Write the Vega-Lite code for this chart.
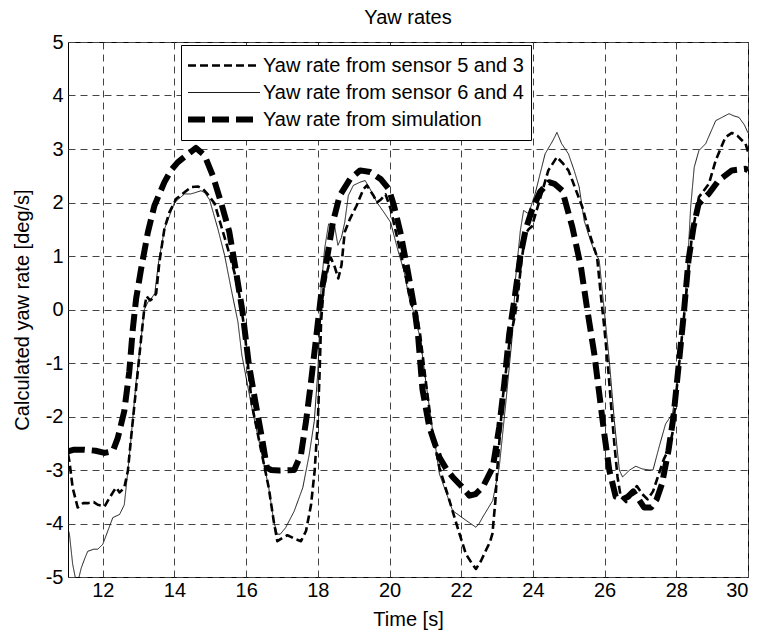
{
  "$schema": "https://vega.github.io/schema/vega-lite/v6.json",
  "width": 680,
  "height": 535,
  "autosize": {"type": "none"},
  "padding": {"left": 68, "top": 42, "right": 12, "bottom": 57},
  "background": "white",
  "title": {"text": "Yaw rates", "fontSize": 20, "font": "Liberation Sans", "fontWeight": "normal", "color": "black", "offset": 4, "anchor": "middle"},
  "datasets": {
    "s1": [
      {"t":11.03,"y":-2.7},{"t":11.07,"y":-2.84},{"t":11.16,"y":-3.33},{"t":11.3,"y":-3.7},{"t":11.45,"y":-3.62},{"t":11.58,"y":-3.62},{"t":11.75,"y":-3.6},{"t":11.86,"y":-3.65},{"t":12.05,"y":-3.68},{"t":12.19,"y":-3.52},{"t":12.3,"y":-3.4},{"t":12.37,"y":-3.33},{"t":12.47,"y":-3.42},{"t":12.6,"y":-3.33},{"t":12.7,"y":-3.02},{"t":12.79,"y":-2.4},{"t":12.93,"y":-1.47},{"t":13.07,"y":-0.54},{"t":13.16,"y":0.02},{"t":13.22,"y":0.25},{"t":13.32,"y":0.17},{"t":13.42,"y":0.22},{"t":13.49,"y":0.3},{"t":13.58,"y":0.89},{"t":13.72,"y":1.51},{"t":13.86,"y":1.82},{"t":14.05,"y":2.07},{"t":14.28,"y":2.19},{"t":14.47,"y":2.29},{"t":14.65,"y":2.3},{"t":14.8,"y":2.25},{"t":14.93,"y":2.15},{"t":15.12,"y":1.98},{"t":15.3,"y":1.57},{"t":15.49,"y":1.14},{"t":15.67,"y":0.7},{"t":15.81,"y":0.27},{"t":15.95,"y":-0.35},{"t":16.16,"y":-1.78},{"t":16.44,"y":-2.71},{"t":16.63,"y":-3.33},{"t":16.77,"y":-3.96},{"t":16.87,"y":-4.33},{"t":17.01,"y":-4.27},{"t":17.15,"y":-4.22},{"t":17.25,"y":-4.25},{"t":17.4,"y":-4.3},{"t":17.53,"y":-4.33},{"t":17.67,"y":-4.14},{"t":17.81,"y":-3.65},{"t":17.91,"y":-3.02},{"t":18.0,"y":-2.09},{"t":18.05,"y":-1.16},{"t":18.09,"y":-0.23},{"t":18.16,"y":0.39},{"t":18.28,"y":0.76},{"t":18.36,"y":0.97},{"t":18.47,"y":0.8},{"t":18.57,"y":0.58},{"t":18.66,"y":0.83},{"t":18.75,"y":1.45},{"t":18.9,"y":1.7},{"t":19.08,"y":1.94},{"t":19.27,"y":2.25},{"t":19.37,"y":2.32},{"t":19.46,"y":2.22},{"t":19.56,"y":2.12},{"t":19.65,"y":2.0},{"t":19.75,"y":2.05},{"t":19.89,"y":2.15},{"t":20.03,"y":1.88},{"t":20.22,"y":1.32},{"t":20.41,"y":0.76},{"t":20.6,"y":0.1},{"t":20.75,"y":-0.05},{"t":20.85,"y":-0.45},{"t":21.02,"y":-1.39},{"t":21.2,"y":-2.32},{"t":21.39,"y":-2.95},{"t":21.67,"y":-3.57},{"t":21.95,"y":-4.19},{"t":22.13,"y":-4.57},{"t":22.3,"y":-4.75},{"t":22.41,"y":-4.85},{"t":22.55,"y":-4.7},{"t":22.69,"y":-4.5},{"t":22.8,"y":-4.35},{"t":22.87,"y":-4.19},{"t":22.95,"y":-3.6},{"t":23.01,"y":-2.95},{"t":23.15,"y":-1.7},{"t":23.34,"y":-0.64},{"t":23.5,"y":-0.1},{"t":23.57,"y":0.2},{"t":23.68,"y":0.9},{"t":23.79,"y":1.41},{"t":23.88,"y":1.5},{"t":23.97,"y":1.55},{"t":24.16,"y":1.98},{"t":24.43,"y":2.6},{"t":24.67,"y":2.85},{"t":24.85,"y":2.72},{"t":24.99,"y":2.6},{"t":25.1,"y":2.41},{"t":25.38,"y":1.91},{"t":25.61,"y":1.35},{"t":25.79,"y":0.98},{"t":25.89,"y":0.3},{"t":25.99,"y":-0.33},{"t":26.08,"y":-0.95},{"t":26.17,"y":-1.7},{"t":26.27,"y":-2.5},{"t":26.36,"y":-3.13},{"t":26.45,"y":-3.5},{"t":26.6,"y":-3.6},{"t":26.75,"y":-3.45},{"t":26.9,"y":-3.3},{"t":27.05,"y":-3.45},{"t":27.2,"y":-3.55},{"t":27.35,"y":-3.4},{"t":27.5,"y":-3.1},{"t":27.65,"y":-2.8},{"t":27.8,"y":-2.6},{"t":27.89,"y":-2.32},{"t":28.07,"y":-1.08},{"t":28.26,"y":0.17},{"t":28.44,"y":1.41},{"t":28.63,"y":2.1},{"t":28.91,"y":2.35},{"t":29.1,"y":2.79},{"t":29.37,"y":3.22},{"t":29.55,"y":3.3},{"t":29.7,"y":3.25},{"t":29.85,"y":3.15},{"t":29.93,"y":3.1},{"t":30.0,"y":2.95}
    ],
    "s2": [
      {"t":11.03,"y":-4.1},{"t":11.07,"y":-4.2},{"t":11.16,"y":-4.76},{"t":11.26,"y":-5.1},{"t":11.32,"y":-5.05},{"t":11.4,"y":-4.83},{"t":11.5,"y":-4.65},{"t":11.58,"y":-4.52},{"t":11.75,"y":-4.48},{"t":11.86,"y":-4.48},{"t":12.0,"y":-4.39},{"t":12.14,"y":-4.14},{"t":12.28,"y":-3.89},{"t":12.47,"y":-3.83},{"t":12.6,"y":-3.65},{"t":12.7,"y":-3.02},{"t":12.79,"y":-2.4},{"t":12.93,"y":-1.35},{"t":13.07,"y":-0.54},{"t":13.16,"y":0.0},{"t":13.26,"y":0.14},{"t":13.35,"y":0.2},{"t":13.45,"y":0.3},{"t":13.55,"y":0.85},{"t":13.72,"y":1.5},{"t":13.86,"y":1.75},{"t":14.0,"y":2.0},{"t":14.28,"y":2.16},{"t":14.45,"y":2.16},{"t":14.56,"y":2.18},{"t":14.74,"y":2.22},{"t":14.85,"y":2.18},{"t":14.98,"y":2.05},{"t":15.21,"y":1.51},{"t":15.4,"y":1.01},{"t":15.58,"y":0.39},{"t":15.77,"y":-0.23},{"t":15.88,"y":-0.85},{"t":16.16,"y":-1.84},{"t":16.44,"y":-2.71},{"t":16.63,"y":-3.33},{"t":16.77,"y":-3.96},{"t":16.87,"y":-4.2},{"t":16.95,"y":-4.2},{"t":17.1,"y":-4.08},{"t":17.34,"y":-3.77},{"t":17.58,"y":-3.33},{"t":17.76,"y":-2.71},{"t":17.9,"y":-2.09},{"t":18.0,"y":-1.16},{"t":18.05,"y":-0.35},{"t":18.09,"y":0.39},{"t":18.19,"y":1.14},{"t":18.3,"y":1.6},{"t":18.38,"y":1.55},{"t":18.47,"y":1.55},{"t":18.56,"y":1.2},{"t":18.66,"y":1.35},{"t":18.75,"y":1.63},{"t":18.85,"y":2.13},{"t":18.99,"y":2.32},{"t":19.18,"y":2.38},{"t":19.32,"y":2.41},{"t":19.46,"y":2.25},{"t":19.65,"y":2.0},{"t":19.84,"y":1.82},{"t":20.03,"y":1.63},{"t":20.22,"y":1.14},{"t":20.41,"y":0.7},{"t":20.55,"y":0.2},{"t":20.65,"y":0.0},{"t":20.78,"y":-0.35},{"t":20.85,"y":-0.5},{"t":21.02,"y":-1.39},{"t":21.2,"y":-2.25},{"t":21.3,"y":-2.64},{"t":21.39,"y":-3.07},{"t":21.76,"y":-3.76},{"t":22.13,"y":-3.94},{"t":22.41,"y":-4.07},{"t":22.5,"y":-4.0},{"t":22.6,"y":-3.88},{"t":22.88,"y":-3.57},{"t":23.06,"y":-2.95},{"t":23.25,"y":-1.7},{"t":23.43,"y":-0.45},{"t":23.51,"y":0.54},{"t":23.65,"y":1.48},{"t":23.74,"y":1.85},{"t":23.88,"y":1.79},{"t":24.06,"y":2.16},{"t":24.34,"y":2.91},{"t":24.55,"y":3.15},{"t":24.67,"y":3.31},{"t":24.8,"y":3.1},{"t":24.99,"y":2.91},{"t":25.15,"y":2.6},{"t":25.29,"y":2.29},{"t":25.43,"y":1.66},{"t":25.6,"y":1.3},{"t":25.71,"y":1.1},{"t":25.85,"y":0.92},{"t":25.99,"y":-0.02},{"t":26.13,"y":-0.95},{"t":26.27,"y":-2.07},{"t":26.41,"y":-3.0},{"t":26.5,"y":-3.13},{"t":26.7,"y":-3.0},{"t":26.87,"y":-2.93},{"t":27.05,"y":-2.98},{"t":27.24,"y":-3.0},{"t":27.35,"y":-3.0},{"t":27.52,"y":-2.57},{"t":27.7,"y":-2.14},{"t":27.89,"y":-1.95},{"t":28.03,"y":-1.39},{"t":28.17,"y":-0.45},{"t":28.31,"y":0.79},{"t":28.4,"y":1.91},{"t":28.5,"y":2.66},{"t":28.63,"y":2.97},{"t":28.82,"y":3.1},{"t":29.1,"y":3.53},{"t":29.3,"y":3.6},{"t":29.47,"y":3.66},{"t":29.6,"y":3.62},{"t":29.75,"y":3.59},{"t":29.9,"y":3.45},{"t":30.0,"y":3.3}
    ],
    "s3": [
      {"t":11.03,"y":-2.65},{"t":11.2,"y":-2.62},{"t":11.49,"y":-2.62},{"t":11.8,"y":-2.64},{"t":12.05,"y":-2.68},{"t":12.28,"y":-2.65},{"t":12.42,"y":-2.4},{"t":12.6,"y":-1.9},{"t":12.74,"y":-1.16},{"t":12.84,"y":-0.35},{"t":12.93,"y":0.2},{"t":13.07,"y":0.76},{"t":13.26,"y":1.45},{"t":13.44,"y":1.94},{"t":13.72,"y":2.38},{"t":13.9,"y":2.6},{"t":14.09,"y":2.75},{"t":14.37,"y":2.9},{"t":14.6,"y":3.02},{"t":14.84,"y":2.88},{"t":15.07,"y":2.5},{"t":15.3,"y":2.0},{"t":15.53,"y":1.45},{"t":15.72,"y":0.7},{"t":15.9,"y":-0.05},{"t":16.07,"y":-1.0},{"t":16.25,"y":-1.7},{"t":16.44,"y":-2.4},{"t":16.58,"y":-2.96},{"t":16.7,"y":-3.0},{"t":16.92,"y":-3.01},{"t":17.34,"y":-3.0},{"t":17.53,"y":-2.71},{"t":17.67,"y":-2.09},{"t":17.81,"y":-1.35},{"t":17.95,"y":-0.54},{"t":18.09,"y":0.27},{"t":18.24,"y":0.89},{"t":18.42,"y":1.63},{"t":18.61,"y":2.13},{"t":18.9,"y":2.44},{"t":19.18,"y":2.6},{"t":19.46,"y":2.57},{"t":19.75,"y":2.44},{"t":19.98,"y":2.25},{"t":20.12,"y":1.95},{"t":20.3,"y":1.45},{"t":20.5,"y":0.75},{"t":20.7,"y":0.0},{"t":20.8,"y":-0.52},{"t":20.92,"y":-1.5},{"t":21.11,"y":-2.2},{"t":21.39,"y":-2.76},{"t":21.6,"y":-3.0},{"t":21.76,"y":-3.13},{"t":22.0,"y":-3.3},{"t":22.23,"y":-3.48},{"t":22.4,"y":-3.45},{"t":22.6,"y":-3.32},{"t":22.88,"y":-2.95},{"t":23.06,"y":-2.2},{"t":23.2,"y":-1.39},{"t":23.34,"y":-0.45},{"t":23.48,"y":0.17},{"t":23.65,"y":1.0},{"t":23.8,"y":1.5},{"t":23.97,"y":1.85},{"t":24.2,"y":2.2},{"t":24.45,"y":2.38},{"t":24.6,"y":2.35},{"t":24.82,"y":2.22},{"t":25.1,"y":1.54},{"t":25.34,"y":0.79},{"t":25.52,"y":-0.02},{"t":25.71,"y":-0.82},{"t":25.85,"y":-1.57},{"t":25.99,"y":-2.32},{"t":26.13,"y":-3.0},{"t":26.31,"y":-3.5},{"t":26.5,"y":-3.55},{"t":26.65,"y":-3.5},{"t":26.8,"y":-3.4},{"t":26.95,"y":-3.55},{"t":27.1,"y":-3.7},{"t":27.3,"y":-3.7},{"t":27.45,"y":-3.55},{"t":27.6,"y":-3.26},{"t":27.78,"y":-2.64},{"t":27.92,"y":-2.01},{"t":28.06,"y":-1.08},{"t":28.2,"y":-0.14},{"t":28.34,"y":0.92},{"t":28.48,"y":1.54},{"t":28.62,"y":1.97},{"t":28.9,"y":2.16},{"t":29.18,"y":2.41},{"t":29.55,"y":2.6},{"t":29.93,"y":2.63},{"t":30.0,"y":2.6}
    ]
  },
  "data": {"name": "s1"},
  "layer": [
    {
      "data": {"name": "s1"},
      "transform": [{"calculate": "'Yaw rate from sensor 5 and 3'", "as": "series"}],
      "mark": {"type": "line", "clip": true, "color": "black", "strokeJoin": "round"},
      "encoding": {
        "x": {"field": "t", "type": "quantitative"},
        "y": {"field": "y", "type": "quantitative"},
        "strokeDash": {"field": "series", "type": "nominal"},
        "strokeWidth": {"field": "series", "type": "nominal"}
      }
    },
    {
      "data": {"name": "s2"},
      "transform": [{"calculate": "'Yaw rate from sensor 6 and 4'", "as": "series"}],
      "mark": {"type": "line", "clip": true, "color": "black", "strokeJoin": "round"},
      "encoding": {
        "x": {"field": "t", "type": "quantitative"},
        "y": {"field": "y", "type": "quantitative"},
        "strokeDash": {"field": "series", "type": "nominal"},
        "strokeWidth": {"field": "series", "type": "nominal"}
      }
    },
    {
      "data": {"name": "s3"},
      "transform": [{"calculate": "'Yaw rate from simulation'", "as": "series"}],
      "mark": {"type": "line", "clip": true, "color": "black", "strokeJoin": "round"},
      "encoding": {
        "x": {"field": "t", "type": "quantitative"},
        "y": {"field": "y", "type": "quantitative"},
        "strokeDash": {"field": "series", "type": "nominal"},
        "strokeWidth": {"field": "series", "type": "nominal"}
      }
    }
  ],
  "encoding": {
    "x": {
      "field": "t", "type": "quantitative",
      "scale": {"domain": [11.03, 30], "nice": false, "zero": false},
      "axis": {"values": [12, 14, 16, 18, 20, 22, 24, 26, 28, 30], "title": "Time [s]", "labelExpr": "'' + datum.value", "labelPadding": 3, "titlePadding": 9}
    },
    "y": {
      "field": "y", "type": "quantitative",
      "scale": {"domain": [-5, 5], "nice": false, "zero": false},
      "axis": {"values": [-5, -4, -3, -2, -1, 0, 1, 2, 3, 4, 5], "title": "Calculated yaw rate [deg/s]", "labelExpr": "'' + datum.value", "labelPadding": 5, "titlePadding": 13}
    },
    "strokeDash": {
      "field": "series", "type": "nominal",
      "scale": {"domain": ["Yaw rate from sensor 5 and 3", "Yaw rate from sensor 6 and 4", "Yaw rate from simulation"], "range": [[8, 4], [1, 0], [17, 7]]},
      "legend": {"title": null, "orient": "none", "legendX": 113, "legendY": 3, "symbolType": "M-3,0H3", "symbolSize": 576, "symbolOffset": 21, "clipHeight": 27, "symbolStrokeColor": "black", "labelFontSize": 20, "labelFont": "Liberation Sans", "labelColor": "black", "labelOffset": 24, "strokeColor": "black", "fillColor": "white", "padding": 7, "rowPadding": 0, "labelLimit": 400}
    },
    "strokeWidth": {
      "field": "series", "type": "nominal",
      "scale": {"type": "ordinal", "domain": ["Yaw rate from sensor 5 and 3", "Yaw rate from sensor 6 and 4", "Yaw rate from simulation"], "range": [2.6, 0.9, 6]},
      "legend": {"title": null, "orient": "none", "legendX": 113, "legendY": 3, "symbolType": "M-3,0H3", "symbolSize": 576, "symbolOffset": 21, "clipHeight": 27, "symbolStrokeColor": "black", "labelFontSize": 20, "labelFont": "Liberation Sans", "labelColor": "black", "labelOffset": 24, "strokeColor": "black", "fillColor": "white", "padding": 7, "rowPadding": 0, "labelLimit": 400}
    }
  },
  "config": {
    "view": {"stroke": "black", "strokeWidth": 1},
    "axis": {
      "domain": false, "ticks": false,
      "grid": true, "gridColor": "#444444", "gridDash": [7, 5], "gridWidth": 1, "gridOpacity": 1,
      "labelFont": "Liberation Sans", "labelFontSize": 20, "labelColor": "black",
      "titleFont": "Liberation Sans", "titleFontSize": 20, "titleFontWeight": "normal", "titleColor": "black"
    }
  }
}
